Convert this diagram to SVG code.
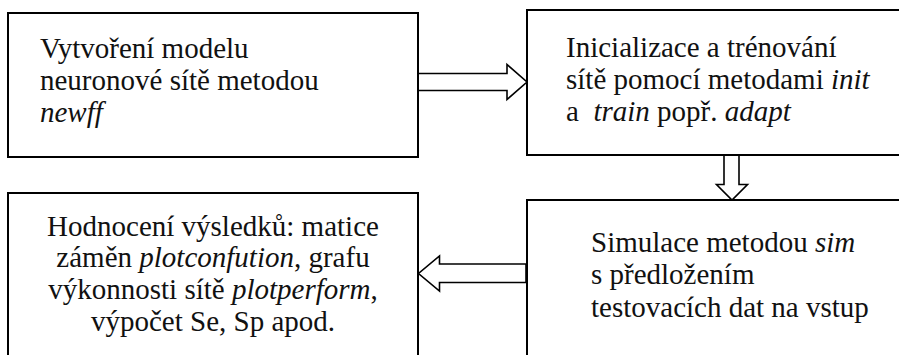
<svg xmlns="http://www.w3.org/2000/svg" width="899" height="355" viewBox="0 0 899 355">
  <style>
    .box { fill: #ffffff; stroke: #000000; stroke-width: 2; }
    .arrow { fill: #ffffff; stroke: #000000; stroke-width: 1.6; stroke-linejoin: miter; }
    .label { font-family: "Liberation Serif", "Times New Roman", serif; font-size: 29px; fill: #111111; white-space: pre; }
    .it { font-style: italic; }
  </style>
  <rect width="899" height="355" fill="#ffffff"/>

  <g id="connectors">
    <!-- model creation -> training -->
    <polygon class="arrow" points="418,73.5 507,73.5 507,64.5 527,82 507,99.5 507,90.5 418,90.5"/>
    <!-- training -> simulation -->
    <polygon class="arrow" points="724,155 739,155 739,184.5 747.5,184.5 732,200 716.5,184.5 724,184.5"/>
    <!-- simulation -> evaluation -->
    <polygon class="arrow" points="526,264 439.5,264 439.5,256 418.5,273.5 439.5,291 439.5,282.5 526,282.5"/>
  </g>

  <g id="node-model">
    <rect class="box" x="8" y="13" width="410" height="144"/>
    <text class="label" x="40" y="58">Vytvoření modelu</text>
    <text class="label" x="40" y="90">neuronové sítě metodou</text>
    <text class="label" x="40" y="122"><tspan class="it">newff</tspan></text>
  </g>

  <g id="node-training">
    <rect class="box" x="527" y="10" width="380" height="145"/>
    <text class="label" x="566" y="57">Inicializace a trénování</text>
    <text class="label" x="566" y="89">sítě pomocí metodami <tspan class="it">init</tspan></text>
    <text class="label" x="566" y="121">a  <tspan class="it">train</tspan> popř. <tspan class="it">adapt</tspan></text>
  </g>

  <g id="node-evaluation">
    <rect class="box" x="8" y="193" width="410" height="180"/>
    <text class="label" x="213" y="236" text-anchor="middle">Hodnocení výsledků: matice</text>
    <text class="label" x="213" y="267" text-anchor="middle">záměn <tspan class="it">plotconfution</tspan>, grafu</text>
    <text class="label" x="213" y="299" text-anchor="middle">výkonnosti sítě <tspan class="it">plotperform</tspan>,</text>
    <text class="label" x="213" y="331" text-anchor="middle">výpočet Se, Sp apod.</text>
  </g>

  <g id="node-simulation">
    <rect class="box" x="527" y="200" width="380" height="180"/>
    <text class="label" x="591" y="252">Simulace metodou <tspan class="it">sim</tspan></text>
    <text class="label" x="591" y="284">s předložením</text>
    <text class="label" x="591" y="317">testovacích dat na vstup</text>
  </g>
</svg>
